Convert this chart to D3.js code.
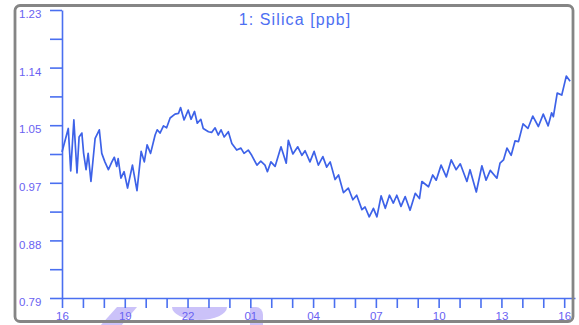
<!DOCTYPE html>
<html>
<head>
<meta charset="utf-8">
<script src="https://cdn.jsdelivr.net/npm/d3@7"></script>
<style>
  html, body { margin: 0; padding: 0; background: #fff; }
  svg { display: block; }
  text { font-family: "Liberation Sans", Arial, sans-serif; }
</style>
</head>
<body>
<svg id="chart" width="579" height="325"></svg>
<script>
// Silica trend, 24 h window starting at 16:00 (minutes after start, ppb)
const minutes = [
  0, 18, 25, 34, 43, 49, 57, 62, 69, 75, 83, 95, 107, 114, 123, 133, 143, 150, 157, 161,
  169, 178, 188, 202, 215, 227, 236, 244, 254, 267, 273, 281, 291, 300, 310, 324, 334, 340, 350, 362,
  370, 380, 388, 398, 405, 420, 429, 439, 448, 456, 465, 477, 487, 501, 513, 522, 534, 544, 559, 570,
  582, 589, 599, 611, 628, 643, 649, 662, 676, 688, 697, 711, 723, 735, 748, 759, 769, 783, 793, 807,
  821, 834, 845, 860, 869, 881, 893, 903, 915, 927, 939, 950, 960, 972, 984, 998, 1013, 1025, 1032, 1051,
  1063, 1073, 1087, 1102, 1116, 1130, 1142, 1161, 1170, 1188, 1204, 1216, 1228, 1247, 1256, 1266, 1276, 1288, 1299, 1309,
  1322, 1336, 1350, 1366, 1380, 1394, 1404, 1409, 1420, 1433, 1446, 1457
];
const silica = [
  1.013, 1.049, 0.984, 1.062, 0.981, 1.036, 1.042, 1.011, 0.986, 1.011, 0.968, 1.034, 1.047, 1.011, 0.998, 0.986, 0.998, 1.005, 0.991, 1.003,
  0.973, 0.983, 0.958, 0.993, 0.954, 1.014, 0.998, 1.024, 1.011, 1.039, 1.047, 1.042, 1.053, 1.050, 1.065, 1.071, 1.072, 1.081, 1.062, 1.077,
  1.063, 1.075, 1.057, 1.063, 1.049, 1.044, 1.043, 1.050, 1.039, 1.047, 1.036, 1.044, 1.026, 1.016, 1.019, 1.011, 1.016, 1.008, 0.993, 0.999,
  0.993, 0.983, 0.998, 0.991, 1.021, 0.996, 1.031, 1.010, 1.021, 1.008, 1.015, 0.998, 1.014, 0.993, 1.006, 0.990, 0.998, 0.971, 0.978, 0.951,
  0.958, 0.940, 0.947, 0.925, 0.929, 0.914, 0.927, 0.914, 0.946, 0.927, 0.947, 0.935, 0.947, 0.930, 0.945, 0.924, 0.950, 0.942, 0.968, 0.960,
  0.978, 0.970, 0.993, 0.975, 1.001, 0.986, 0.995, 0.968, 0.986, 0.952, 0.992, 0.970, 0.985, 0.973, 0.996, 1.001, 1.019, 1.008, 1.030, 1.029,
  1.056, 1.049, 1.068, 1.052, 1.071, 1.053, 1.073, 1.067, 1.103, 1.100, 1.129, 1.121
];

const yMajorTicks = [0.79, 0.878, 0.966, 1.054, 1.142, 1.23];
const yMajorLabels = ["0.79", "0.88", "0.97", "1.05", "1.14", "1.23"];
const yMinorTicks = [0.834, 0.922, 1.010, 1.098, 1.186];
const xLabelEvery = 3; // hours between labelled ticks
const title = "1: Silica [ppb]";

const start = new Date(2021, 0, 1, 16, 0, 0);
const data = minutes.map((m, i) => ({ t: d3.timeMinute.offset(start, m), v: silica[i] }));

const svg = d3.select("#chart");
const lineColor = "#3d62e8";
const axisColor = "#4a6ff0";
const labelColor = "#6a62f2";

const x = d3.scaleTime()
  .domain([start, d3.timeMinute.offset(start, 24 * 60 + 31)])
  .range([62, 575]);
const y = d3.scaleLinear()
  .domain([0.79, 1.23])
  .range([298, 10]);

// soft lavender overlay shapes along the time axis
const overlay = svg.append("g").attr("fill", "#cbc2f9").attr("stroke", "none");
overlay.append("path").attr("d", "M117,307 L137,307 L121,326 L100,326 Z");
overlay.append("path").attr("d", "M172,307 L227,307 A27.5,13 0 0 1 172,307 Z");
overlay.append("path").attr("d", "M250,307 L256,307 A7,8 0 0 1 263,315 L263,326 L250,326 Z");

// y axis
const yAxis = d3.axisLeft(y)
  .tickValues(yMajorTicks.concat(yMinorTicks))
  .tickSize(12)
  .tickSizeOuter(0)
  .tickPadding(8)
  .tickFormat(d => {
    const i = yMajorTicks.indexOf(d);
    return i >= 0 ? yMajorLabels[i] : "";
  });
const gy = svg.append("g").attr("transform", "translate(62,0)").call(yAxis);
gy.select(".domain").attr("stroke", axisColor).attr("stroke-width", 1.6);
gy.selectAll(".tick line").attr("stroke", axisColor).attr("stroke-width", 1.6);
gy.selectAll(".tick text")
  .attr("fill", labelColor)
  .attr("font-size", 11.5)
  .attr("dy", "0.32em")
  .attr("transform", "translate(0,4)")
  .attr("text-anchor", "start")
  .attr("x", -43);

// x axis
const xAxis = d3.axisBottom(x)
  .ticks(d3.timeHour.every(1))
  .tickSize(10)
  .tickSizeOuter(0)
  .tickPadding(4)
  .tickFormat(d => d3.timeHour.count(start, d) % xLabelEvery === 0 ? d3.timeFormat("%H")(d) : "");
const gx = svg.append("g").attr("transform", "translate(0,298)").call(xAxis);
gx.select(".domain").attr("stroke", axisColor).attr("stroke-width", 1.6);
gx.selectAll(".tick line").attr("stroke", axisColor).attr("stroke-width", 1.6);
gx.selectAll(".tick text").attr("fill", labelColor).attr("font-size", 11.5);

// series line
svg.append("path")
  .datum(data)
  .attr("fill", "none")
  .attr("stroke", lineColor)
  .attr("stroke-width", 1.7)
  .attr("stroke-linejoin", "round")
  .attr("d", d3.line().x(d => x(d.t)).y(d => y(d.v)));

// title
svg.append("text")
  .attr("x", 295)
  .attr("y", 25)
  .attr("text-anchor", "middle")
  .attr("fill", "#4d6ff2")
  .attr("font-size", 16)
  .attr("letter-spacing", 1.1)
  .text(title);

// outer frame
svg.append("rect")
  .attr("x", 15).attr("y", 5.5)
  .attr("width", 558).attr("height", 316)
  .attr("rx", 5)
  .attr("fill", "none")
  .attr("stroke", "#858585")
  .attr("stroke-width", 2.8);
</script>
</body>
</html>
